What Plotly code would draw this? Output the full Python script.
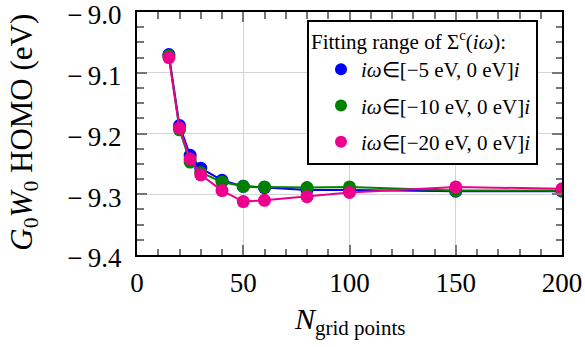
import plotly.graph_objects as go

n_grid = [15, 20, 25, 30, 40, 50, 60, 80, 100, 150, 200]
homo_5 = [-9.070, -9.187, -9.236, -9.257, -9.277, -9.287, -9.289, -9.293, -9.293, -9.295, -9.295]
homo_10 = [-9.072, -9.194, -9.247, -9.264, -9.280, -9.287, -9.288, -9.289, -9.288, -9.294, -9.294]
homo_20 = [-9.075, -9.191, -9.242, -9.268, -9.294, -9.312, -9.310, -9.304, -9.297, -9.288, -9.291]

x_ticks = [0, 50, 100, 150, 200]
y_ticks = [-9.4, -9.3, -9.2, -9.1, -9.0]
y_ticktext = ["\u2212\u20099.4", "\u2212\u20099.3", "\u2212\u20099.2", "\u2212\u20099.1", "\u2212\u20099.0"]

series = [
    ("<i>iω</i>∈[−5 eV, 0 eV]<i>i</i>", homo_5, "#0000ff"),
    ("<i>iω</i>∈[−10 eV, 0 eV]<i>i</i>", homo_10, "#008000"),
    ("<i>iω</i>∈[−20 eV, 0 eV]<i>i</i>", homo_20, "#ec008c"),
]

FONT = "Liberation Serif"
fig = go.Figure()
for k, (name, ys, col) in enumerate(series):
    fig.add_trace(go.Scatter(x=n_grid, y=ys, mode="lines", line=dict(color=col, width=2),
                             showlegend=False, hoverinfo="skip", legendgroup=f"g{k}"))
    fig.add_trace(go.Scatter(x=n_grid, y=ys, mode="markers", name=name, legendgroup=f"g{k}",
                             marker=dict(color=col, size=13, line=dict(width=0))))

axis_common = dict(
    showline=True, linecolor="black", linewidth=2, mirror="allticks",
    ticks="inside", ticklen=10, tickcolor="#777777", tickwidth=1.5,
    showgrid=True, gridcolor="#d4d4d4", gridwidth=1, zeroline=False,
    automargin=False, ticklabeloverflow="allow",
    tickfont=dict(family=FONT, size=27, color="black"),
)

fig.update_layout(
    width=585, height=347,
    margin=dict(l=137, r=23, t=12, b=92),
    paper_bgcolor="white", plot_bgcolor="white",
    font=dict(family=FONT, color="black"),
    xaxis=dict(range=[0, 200], tickvals=x_ticks,
               minor=dict(dtick=10, ticks="inside", ticklen=6.5, tickcolor="#777777", showgrid=False),
               ticklabelstandoff=3,
               **axis_common),
    yaxis=dict(range=[-9.4, -9.0], tickvals=y_ticks, ticktext=y_ticktext,
               minor=dict(dtick=0.025, ticks="inside", ticklen=6.5, tickcolor="#777777", showgrid=False),
               ticklabelstandoff=8, ticklabelshift=3,
               **axis_common),
    legend=dict(
        x=0.4, y=0.968, xanchor="left", yanchor="top",
        bgcolor="white", bordercolor="black", borderwidth=2,
        font=dict(family=FONT, size=21, color="black"),
        title=dict(text="Fitting range of Σ<sup>c</sup>(<i>iω</i>):", font=dict(family=FONT, size=21), side="top"),
        itemsizing="constant", tracegroupgap=6, indentation=12,
    ),
    annotations=[
        dict(text="<i>N</i><sub>grid points</sub>", xref="paper", yref="paper",
             x=0.5, y=-0.27, xanchor="center", yanchor="middle", showarrow=False,
             font=dict(family=FONT, size=30, color="black")),
        dict(text="<i>G</i><sub>0</sub><i>W</i><sub>0</sub> HOMO (eV)", xref="paper", yref="paper",
             x=-0.268, y=0.504, xanchor="center", yanchor="middle", showarrow=False, textangle=-90,
             font=dict(family=FONT, size=31, color="black")),
    ],
)

fig.write_html("out.html")
